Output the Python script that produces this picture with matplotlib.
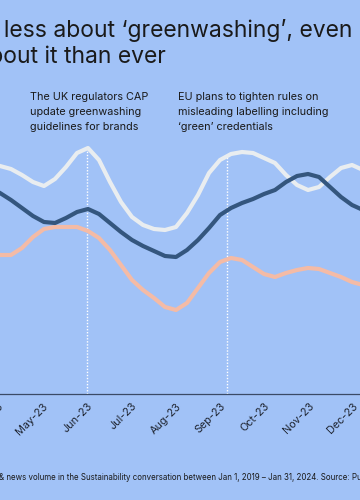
import numpy as np
import matplotlib
matplotlib.use("Agg")
import matplotlib.pyplot as plt
from matplotlib.transforms import ScaledTranslation

plt.rcParams['font.family'] = ['Inter', 'DejaVu Sans']

# months on the x axis (Apr-23 = 3, May-23 = 4, ...)
months = ['Apr-23', 'May-23', 'Jun-23', 'Jul-23', 'Aug-23', 'Sep-23',
          'Oct-23', 'Nov-23', 'Dec-23']
month_pos = np.arange(3, 3 + len(months))

# sample positions (roughly weekly) in month units
x = 2.689 + 0.2486 * np.arange(35)

# volume index
social = [231, 228, 225, 219, 212, 208, 215, 227, 241, 246, 234, 212, 192, 177,
          169, 165, 164, 167, 181, 199, 221, 234, 240, 242, 241, 236, 231, 219,
          209, 204, 207, 217, 226, 229, 224]
news = [207, 201, 194, 186, 178, 172, 171, 176, 182, 185, 180, 171, 162, 154,
        148, 143, 138, 137, 144, 154, 166, 179, 186, 191, 195, 200, 204, 212,
        218, 220, 217, 207, 197, 189, 184]
greenwashing = [143, 139, 139, 146, 157, 165, 167, 167, 167, 163, 156, 144, 129,
                114, 104, 96, 87, 84, 91, 106, 121, 132, 136, 134, 127, 120, 117,
                121, 124, 126, 125, 121, 117, 112, 109]

# events
event_x = [4.904, 8.068]
event_top = [246, 239]
event_text = ["The UK regulators CAP\nupdate greenwashing\nguidelines for brands",
              "EU plans to tighten rules on\nmisleading labelling including\n\u2018green\u2019 credentials"]

bg = '#a1c2f7'
W, H = 360, 500
fig = plt.figure(figsize=(W / 100, H / 100), dpi=100, facecolor=bg)
ax = fig.add_axes([0, 106 / H, 1, 294 / H])
ax.set_facecolor(bg)

for xe, top in zip(event_x, event_top):
    ax.plot([xe, xe], [0, top], color='white', lw=1, ls=(0, (1, 1.2)), zorder=1)

ax.plot(x, social, color='#e9edf0', lw=3, solid_capstyle='round', zorder=3)
ax.plot(x, news, color='#34567e', lw=3, solid_capstyle='round', zorder=4)
ax.plot(x, greenwashing, color='#f4bba6', lw=3, solid_capstyle='round', zorder=2)

ax.set_yticks([])
ax.set_xticks(month_pos)
ax.set_xticklabels(months, rotation=45, ha='right', fontsize=7.8, color='#1e2430')
ax.set_xlim(2.938, 11.073)
ax.set_ylim(0, 294)
ax.tick_params(axis='x', length=0, pad=5)
shift = ScaledTranslation(3 / 100, 0, fig.dpi_scale_trans)
for lab in ax.get_xticklabels():
    lab.set_transform(lab.get_transform() + shift)
for s in ['top', 'left', 'right']:
    ax.spines[s].set_visible(False)
ax.spines['bottom'].set_color('#3a4a66')
ax.spines['bottom'].set_linewidth(0.9)

# title (cropped on the left like the original)
fig.text(352 / W, 1 - 37 / H, "People talk less about \u2018greenwashing\u2019, even",
         ha='right', va='baseline', fontsize=16.5, color='#1a1a1a')
fig.text(166 / W, 1 - 63 / H, "though more talk about it than ever",
         ha='right', va='baseline', fontsize=16.5, color='#1a1a1a')

fig.text(30 / W, 1 - 92 / H, event_text[0], ha='left', va='top',
         fontsize=7.8, linespacing=1.6, color='#1a1a1a')
fig.text(178 / W, 1 - 92 / H, event_text[1], ha='left', va='top',
         fontsize=7.8, linespacing=1.6, color='#1a1a1a')

fig.text(-1 / W, 1 - 480 / H,
         "& news volume in the Sustainability conversation between Jan 1, 2019 \u2013 "
         "Jan 31, 2024. Source: Pulsar",
         ha='left', va='baseline', fontsize=5.7, color='#1a1a1a')

fig.savefig('out.png', dpi=100, facecolor=bg)
